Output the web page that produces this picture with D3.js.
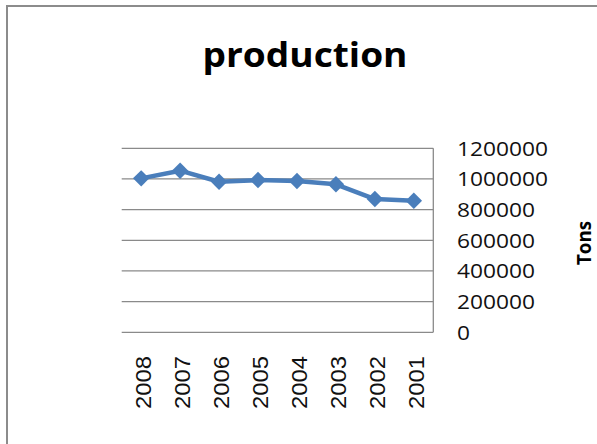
<!DOCTYPE html>
<html>
<head>
<meta charset="utf-8">
<script src="https://cdn.jsdelivr.net/npm/d3@7"></script>
<style>
  body { margin: 0; background: #fff; }
</style>
</head>
<body>
<div id="chart"></div>
<script>
// values
var years = ["2008", "2007", "2006", "2005", "2004", "2003", "2002", "2001"];
var production = [1004000, 1054000, 982000, 993000, 987000, 965000, 869000, 858000];
var yTicks = [0, 200000, 400000, 600000, 800000, 1000000, 1200000];

var width = 597, height = 444;
var svg = d3.select("#chart").append("svg").attr("width", width).attr("height", height);

// frame
svg.append("rect").attr("x", 7).attr("y", 6).attr("width", 620).attr("height", 460)
  .attr("fill", "none").attr("stroke", "#8c8c8c").attr("stroke-width", 2);

var plot = {left: 121.7, right: 433.3, top: 148.3, bottom: 332.3};
var xScale = d3.scaleBand().domain(years).range([plot.left, plot.right]);
var yScale = d3.scaleLinear().domain([0, 1200000]).range([plot.bottom, plot.top]);

// gridlines
svg.append("g").selectAll("line").data(yTicks).enter().append("line")
  .attr("x1", plot.left).attr("x2", plot.right)
  .attr("y1", d => yScale(d)).attr("y2", d => yScale(d))
  .attr("stroke", "#8a8a8a").attr("stroke-width", 1.3);
// right value axis line
svg.append("line").attr("x1", plot.right).attr("x2", plot.right)
  .attr("y1", plot.top).attr("y2", plot.bottom)
  .attr("stroke", "#8a8a8a").attr("stroke-width", 1.3);

// y tick labels (right side)
svg.append("g").selectAll("text").data(yTicks).enter().append("text")
  .attr("x", 457).attr("y", d => yScale(d) + 7.4)
  .attr("font-family", "Open Sans").attr("font-size", 19.5).attr("fill", "#111")
  .attr("textLength", d => String(d).length * 13).attr("lengthAdjust", "spacingAndGlyphs")
  .text(d => d);

// x labels rotated
svg.append("g").selectAll("text").data(years).enter().append("text")
  .attr("transform", d => "translate(" + (xScale(d) + xScale.bandwidth() / 2 + 2) + ",356) rotate(-90)")
  .attr("text-anchor", "end").attr("dy", "0.36em")
  .attr("font-family", "Liberation Sans, Arial").attr("font-size", 22).attr("fill", "#111")
  .attr("textLength", 53).attr("lengthAdjust", "spacingAndGlyphs")
  .text(d => d);

// line + markers
var pts = years.map((y, i) => ({year: y, value: production[i]}));
var line = d3.line().x(d => xScale(d.year) + xScale.bandwidth() / 2).y(d => yScale(d.value));
svg.append("path").attr("d", line(pts)).attr("fill", "none")
  .attr("stroke", "#4a7ebb").attr("stroke-width", 4.5).attr("stroke-linejoin", "round");
svg.append("g").selectAll("path").data(pts).enter().append("path")
  .attr("d", d3.symbol().type(d3.symbolSquare).size(135))
  .attr("transform", d => "translate(" + (xScale(d.year) + xScale.bandwidth() / 2) + "," + yScale(d.value) + ") rotate(45)")
  .attr("fill", "#4a7ebb");

// title
svg.append("text").attr("x", 305).attr("y", 67).attr("text-anchor", "middle")
  .attr("font-family", "Open Sans").attr("font-weight", "bold").attr("font-size", 34)
  .attr("textLength", 205).attr("lengthAdjust", "spacingAndGlyphs")
  .text("production");

// axis title
svg.append("text").attr("transform", "translate(591,243) rotate(-90)")
  .attr("text-anchor", "middle")
  .attr("font-family", "Open Sans").attr("font-weight", "bold").attr("font-size", 19)
  .attr("textLength", 44).attr("lengthAdjust", "spacingAndGlyphs")
  .text("Tons");
</script>
</body>
</html>
